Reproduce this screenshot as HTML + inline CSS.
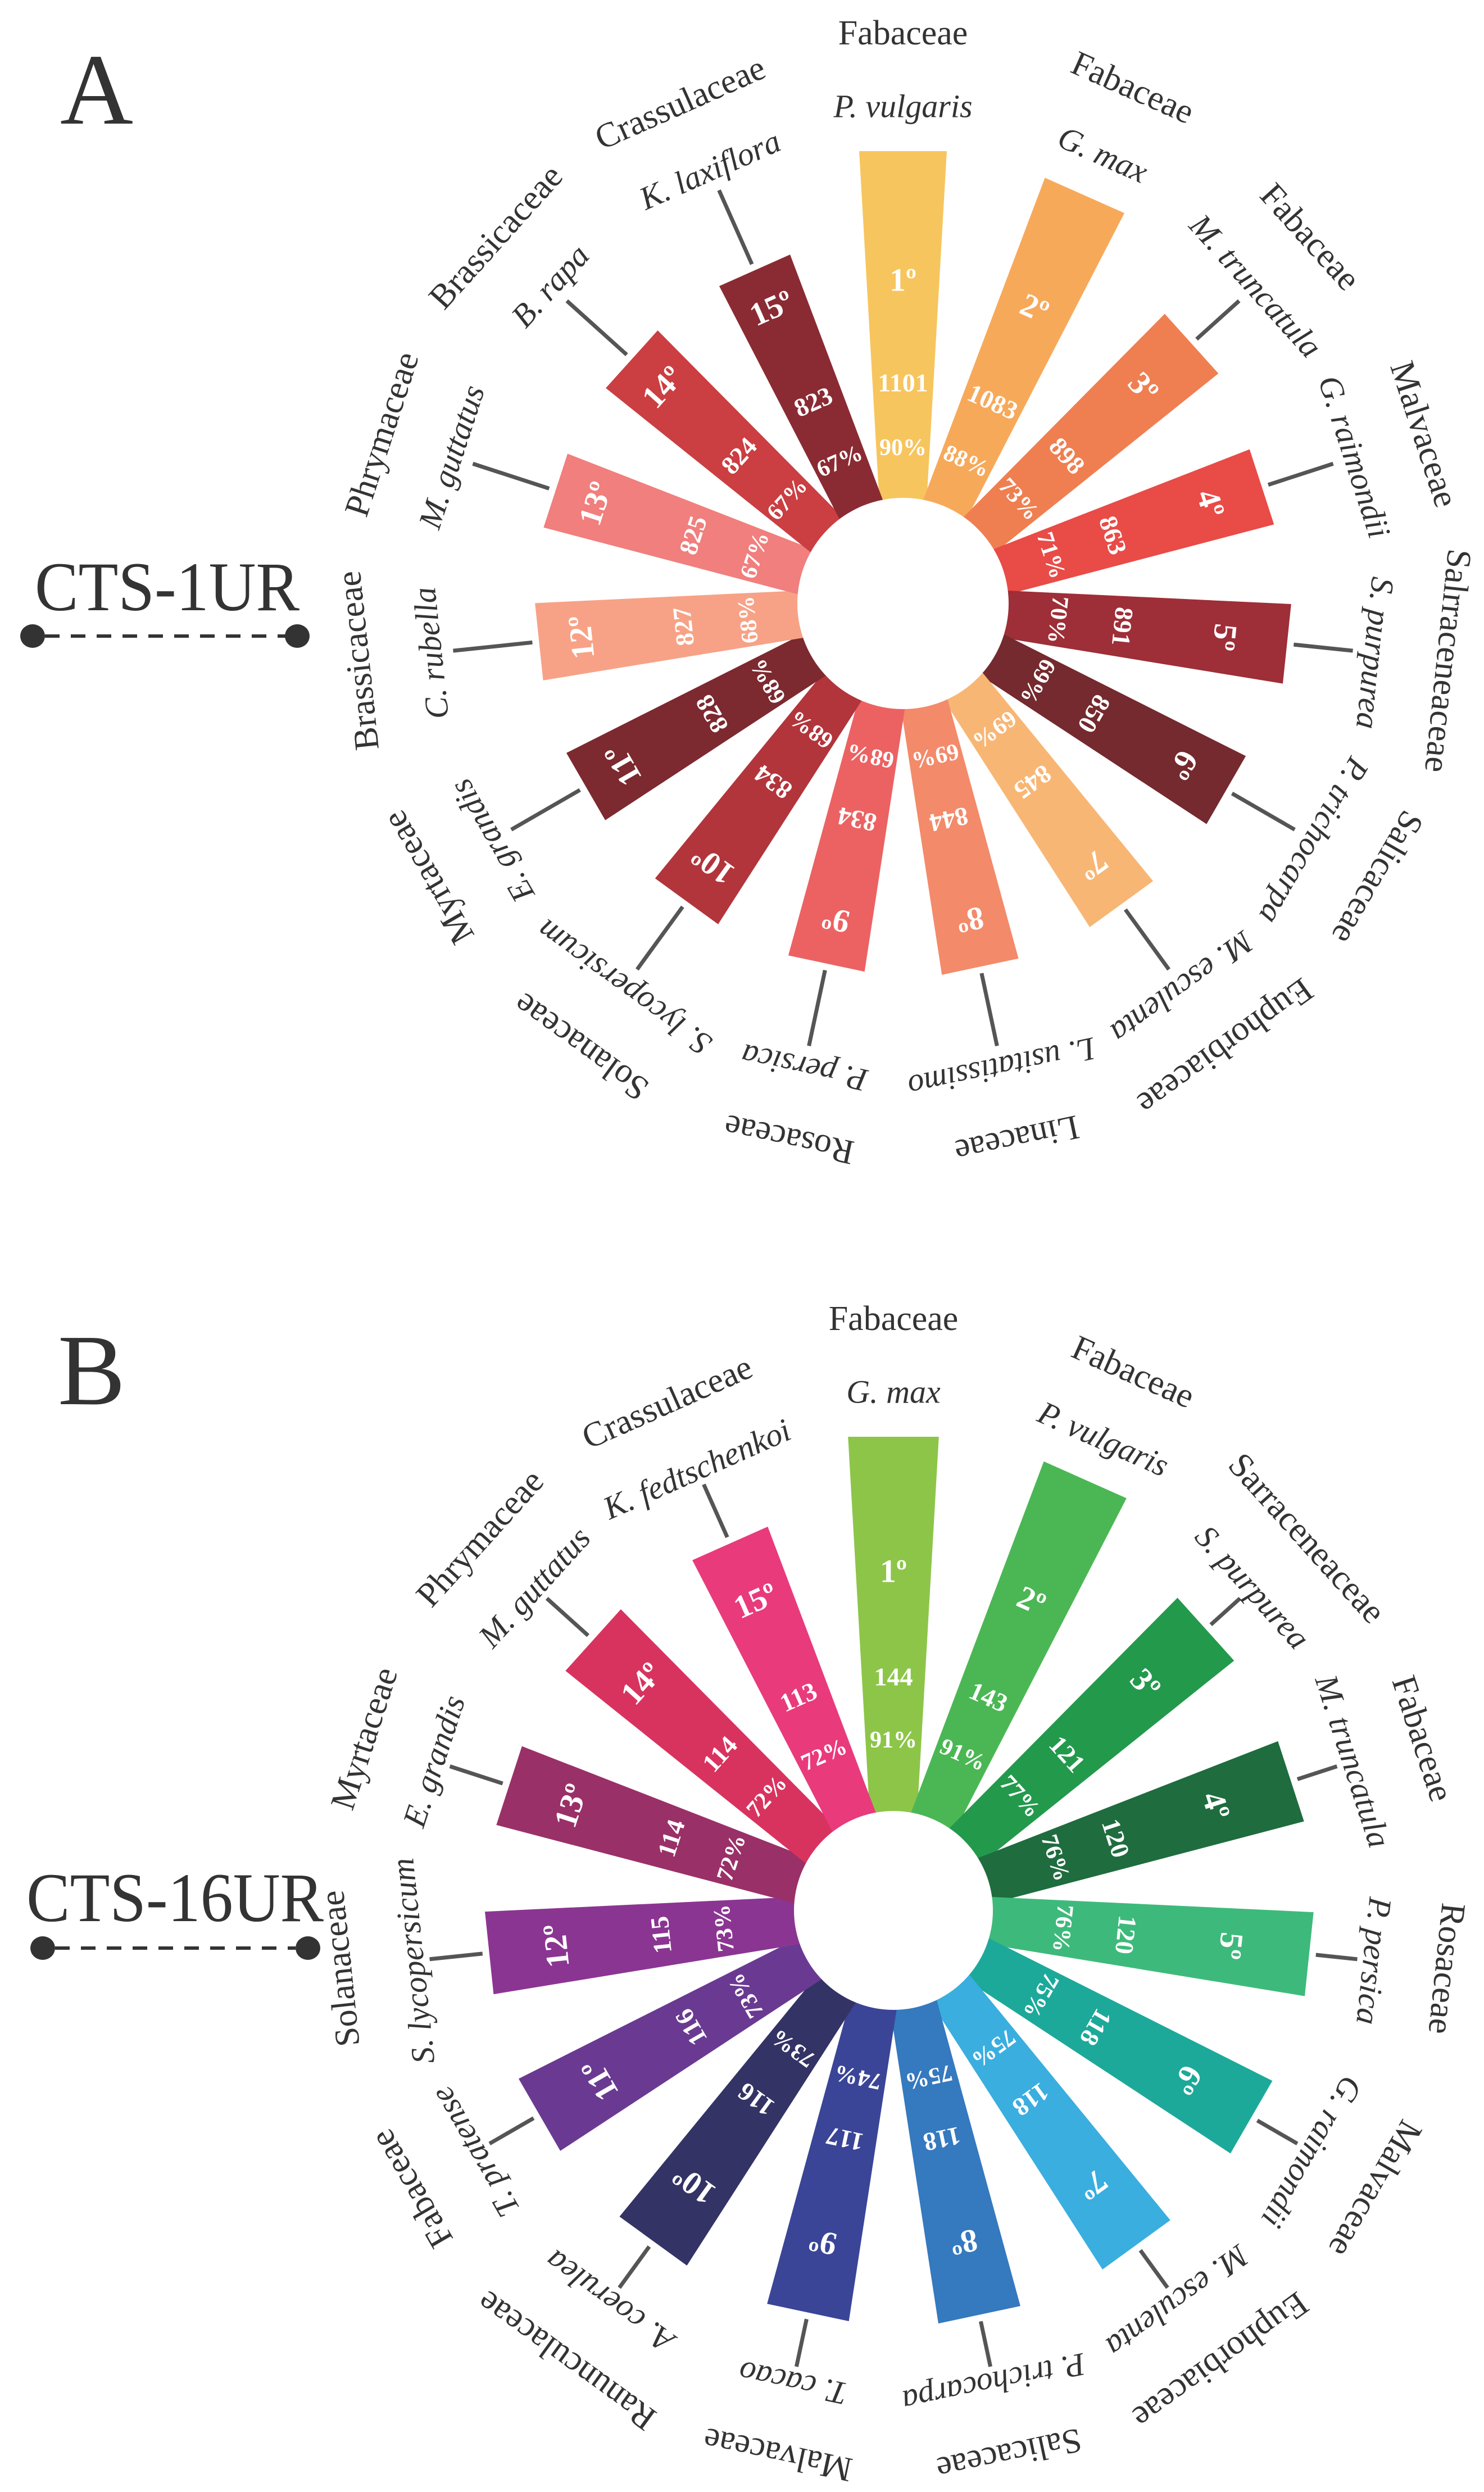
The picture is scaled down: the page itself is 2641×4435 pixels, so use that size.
<!DOCTYPE html>
<html><head><meta charset="utf-8"><title>CTS radial charts</title>
<style>
html,body{margin:0;padding:0;background:#fff;}
svg{display:block;font-family:"Liberation Serif","Times New Roman","DejaVu Serif",serif;}
svg text{font-family:"Liberation Serif","Times New Roman","DejaVu Serif",serif;}
</style></head>
<body>
<svg id="chart" width="2641" height="4435" viewBox="0 0 2641 4435" xmlns="http://www.w3.org/2000/svg" font-family="'Liberation Serif', 'Times New Roman', serif">
  <g>
    <text x="172" y="220" font-size="180" fill="#333" text-anchor="middle" font-family="'Liberation Serif', serif">A</text>
    <text x="62" y="1086" font-size="124" fill="#333" textLength="471" lengthAdjust="spacingAndGlyphs" font-family="'Liberation Serif', serif">CTS-1UR</text>
    <line x1="80" y1="1132" x2="508" y2="1132" stroke="#333" stroke-width="6" stroke-dasharray="26,20"/>
    <ellipse cx="58" cy="1132" rx="22" ry="21" fill="#333"/>
    <ellipse cx="529" cy="1132" rx="22" ry="21" fill="#333"/>
  </g>
  <g>
    <text x="163" y="2499" font-size="180" fill="#333" text-anchor="middle" font-family="'Liberation Serif', serif">B</text>
    <text x="47" y="3419" font-size="124" fill="#333" textLength="529" lengthAdjust="spacingAndGlyphs" font-family="'Liberation Serif', serif">CTS-16UR</text>
    <line x1="98" y1="3467" x2="526" y2="3467" stroke="#333" stroke-width="6" stroke-dasharray="26,20"/>
    <ellipse cx="76" cy="3467" rx="22" ry="21" fill="#333"/>
    <ellipse cx="548" cy="3467" rx="22" ry="21" fill="#333"/>
  </g>
  <g id="panelA"></g>
  <g id="panelB"></g>
</svg>
<script>
// Panel A data
const familiesA = ["Fabaceae","Fabaceae","Fabaceae","Malvaceae","Salrraceneaceae","Salicaceae","Euphorbiaceae","Linaceae","Rosaceae","Solanaceae","Myrtaceae","Brassicaceae","Phrymaceae","Brassicaceae","Crassulaceae"];
const speciesA = ["P. vulgaris","G. max","M. truncatula","G. raimondii","S. purpurea","P. trichocarpa","M. esculenta","L. usitatissimo","P. persica","S. lycopersicum","E. grandis","C. rubella","M. guttatus","B. rapa","K. laxiflora"];
const valuesA = [1101,1083,898,863,891,850,845,844,834,834,828,827,825,824,823];
const percentsA = [90,88,73,71,70,69,69,69,68,68,68,68,67,67,67];
const colorsA = ["#F7C55E","#F7A95A","#EF7F50","#E94B47","#9E2E37","#742A2E","#F8B674","#F38A6A","#EC6262","#B2353B","#7C2930","#F7A286","#F07F7D","#CB3E41","#8A2B33"];

// Panel B data
const familiesB = ["Fabaceae","Fabaceae","Sarraceneaceae","Fabaceae","Rosaceae","Malvaceae","Euphorbiaceae","Salicaceae","Malvaceae","Ranunculaceae","Fabaceae","Solanaceae","Myrtaceae","Phrymaceae","Crassulaceae"];
const speciesB = ["G. max","P. vulgaris","S. purpurea","M. truncatula","P. persica","G. raimondii","M. esculenta","P. trichocarpa","T. cacao","A. coerulea","T. pratense","S. lycopersicum","E. grandis","M. guttatus","K. fedtschenkoi"];
const valuesB = [144,143,121,120,120,118,118,118,117,116,116,115,114,114,113];
const percentsB = [91,91,77,76,76,75,75,75,74,73,73,73,72,72,72];
const colorsB = ["#8DC549","#4BB754","#23994C","#1F6C3F","#3DBA7B","#1CA99A","#3AAEDF","#3579BF","#3A4597","#333366","#6A3A92","#8B3592","#9A3068","#D8335F","#E93A7C"];

const NS = "http://www.w3.org/2000/svg";
const FONT = "'Liberation Serif', 'Times New Roman', serif";
function mk(tag, attrs, parent){
  const e = document.createElementNS(NS, tag);
  for (const k in attrs) e.setAttribute(k, attrs[k]);
  parent.appendChild(e);
  return e;
}

function drawPanel(gid, cfg, fam, sp, vals, pcts, cols, prefix){
  const g = document.getElementById(gid);
  const cx = cfg.cx, cy = cfg.cy;
  const vmin = Math.min.apply(null, vals), vmax = Math.max.apply(null, vals);
  const rScale = v => cfg.rMin + (v - vmin) / (vmax - vmin) * (cfg.rMax - cfg.rMin);
  const n = vals.length;
  const angleOf = i => i * 360 / n;
  const halfW = r => (85 + 0.115 * (r - cfg.r0)) / 2;
  for (let i = 0; i < n; i++){
    const a = angleOf(i);
    const rEnd = rScale(vals[i]);
    const grp = mk("g", {transform: "rotate(" + a + " " + cx + " " + cy + ")"}, g);
    
    
    const rIn = cfg.r0 - 40;
    const w0 = halfW(rIn), w1 = halfW(rEnd);
    const bar = mk("polygon", {
      points: (cx - w0) + "," + (cy - rIn) + " " + (cx + w0) + "," + (cy - rIn) + " " +
              (cx + w1) + "," + (cy - rEnd) + " " + (cx - w1) + "," + (cy - rEnd),
      fill: cols[i]
    }, grp);
    
    
    if (rEnd + 15 < cfg.lineEnd){
      const ln = mk("line", {x1: cx, y1: cy - rEnd - 12, x2: cx, y2: cy - cfg.lineEnd, stroke: "#555", "stroke-width": 7}, grp);
      
      
    }
    const rSp = Math.max(cfg.spR, rEnd + 80);
    const t1 = mk("text", {x: cx, y: cy - rSp, "font-size": 58, "font-style": "italic", fill: "#333", "text-anchor": "middle", "dominant-baseline": "central", "font-family": FONT}, grp);
    t1.textContent = sp[i];
    
    
    const t2 = mk("text", {x: cx, y: cy - rSp - 130, "font-size": 62, fill: "#333", "text-anchor": "middle", "dominant-baseline": "central", "font-family": FONT}, grp);
    t2.textContent = fam[i];
    
    
    const t3 = mk("text", {x: cx, y: cy - cfg.rankR, "font-size": 58, "font-weight": "bold", fill: "#fff", "text-anchor": "middle", "dominant-baseline": "central", "font-family": FONT}, grp);
    t3.textContent = (i+1) + "º";
    
    
    const t4 = mk("text", {x: cx, y: cy - cfg.valR, "font-size": 46, "font-weight": "bold", fill: "#fff", "text-anchor": "middle", "dominant-baseline": "central", "font-family": FONT}, grp);
    t4.textContent = vals[i];
    
    
    const t5 = mk("text", {x: cx, y: cy - cfg.pctR, "font-size": 42, "font-weight": "bold", fill: "#fff", "text-anchor": "middle", "dominant-baseline": "central", "font-family": FONT}, grp);
    t5.textContent = pcts[i] + "%";
    
    
  }
  const c = mk("circle", {cx: cx, cy: cy, r: cfg.r0, fill: "#fff"}, g);
  
  
}

drawPanel("panelA", {cx:1607, cy:1074, r0:188, rMin:649, rMax:805, rankR:576, valR:393, pctR:277, lineEnd:805, spR:845},
  familiesA, speciesA, valuesA, percentsA, colorsA, "a");
drawPanel("panelB", {cx:1590, cy:3400, r0:177, rMin:715, rMax:843, rankR:604, valR:416, pctR:303, lineEnd:830, spR:860},
  familiesB, speciesB, valuesB, percentsB, colorsB, "b");
</script>
</body></html>
